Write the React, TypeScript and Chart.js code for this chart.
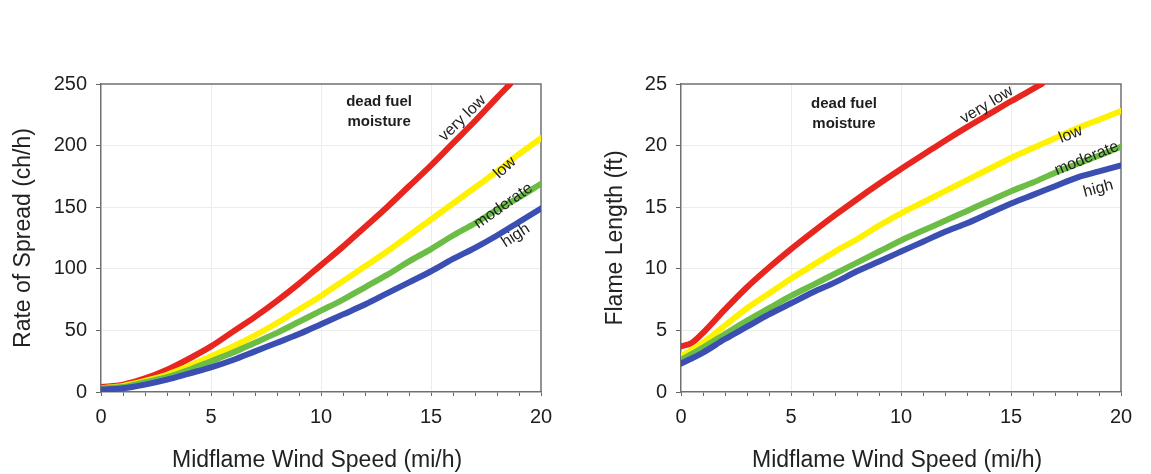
import React, { useEffect, useRef } from "react";
import { Chart, registerables } from "chart.js";

Chart.register(...registerables);

// ---- Data ----
const rosVeryLowX = [0, 1, 2, 3, 4, 5, 6, 7, 8, 9, 10, 11, 12, 13, 14, 15, 16, 17, 18, 18.6];
const rosVeryLow = [4, 6, 11, 18, 27, 37, 49, 61, 74, 88, 103, 118, 134, 150, 167, 184, 202, 220, 239, 250];
const windX = [0, 1, 2, 3, 4, 5, 6, 7, 8, 9, 10, 11, 12, 13, 14, 15, 16, 17, 18, 19, 20];
const rosLow = [3, 5, 9, 14, 21, 29, 37, 46, 56, 67, 78, 90, 102, 114, 127, 140, 153, 166, 179, 193, 206];
const rosModerate = [3, 4, 8, 12, 18, 25, 32, 40, 48, 57, 66, 75, 85, 95, 106, 116, 127, 137, 148, 158, 169];
const rosHigh = [2, 3, 6, 10, 15, 20, 26, 33, 40, 47, 55, 63, 71, 80, 89, 98, 108, 117, 127, 138, 149];

const flVeryLowX = [0, 0.5, 1, 2, 3, 4, 5, 6, 7, 8, 9, 10, 11, 12, 13, 14, 15, 16, 16.4];
const flVeryLow = [3.7, 4.0, 4.8, 6.7, 8.5, 10.1, 11.6, 13.0, 14.35, 15.65, 16.9, 18.1, 19.25, 20.4, 21.5, 22.55, 23.6, 24.6, 25];
const flLow = [2.9, 4.0, 5.4, 6.8, 8.0, 9.2, 10.3, 11.4, 12.4, 13.5, 14.5, 15.4, 16.3, 17.2, 18.1, 19.0, 19.8, 20.6, 21.4, 22.1, 22.8];
const flModerate = [2.6, 3.6, 4.7, 5.8, 6.8, 7.8, 8.7, 9.6, 10.5, 11.4, 12.3, 13.1, 13.9, 14.7, 15.5, 16.3, 17.0, 17.8, 18.5, 19.2, 19.9];
const flHigh = [2.3, 3.2, 4.3, 5.3, 6.3, 7.2, 8.1, 8.9, 9.8, 10.6, 11.4, 12.2, 13.0, 13.7, 14.5, 15.3, 16.0, 16.7, 17.4, 17.9, 18.4];

const seriesNames = ["very low", "low", "moderate", "high"];
const xTitle = "Midflame Wind Speed (mi/h)";
const rosTitle = "Rate of Spread (ch/h)";
const flTitle = "Flame Length (ft)";
const noteLines = ["dead fuel", "moisture"];

// label anchors (data coords) and angles
const rosLabelX = [16.43, 18.36, 18.29, 18.85];
const rosLabelY = [222, 182, 151, 127];
const rosLabelAngle = [-44, -42, -35, -33];
const rosNoteX = 12.64;
const rosNoteY = [235.5, 219];

const flLabelX = [13.9, 17.71, 18.44, 18.97];
const flLabelY = [23.3, 20.9, 18.95, 16.5];
const flLabelAngle = [-31, -22, -22, -15];
const flNoteX = 7.41;
const flNoteY = [23.4, 21.8];

const COLORS = ["#e8251e", "#fff200", "#6cbd45", "#3b4fb2"];
const FONT = "'Liberation Sans', Arial, sans-serif";

const toPts = (xs: number[], ys: number[]) => xs.map((x, i) => ({ x, y: ys[i] }));

type Cfg = {
  padRight: number;
  yMax: number;
  yStep: number;
  yTitle: string;
  yTitleX: number;
  data: { x: number; y: number }[][];
  labelX: number[];
  labelY: number[];
  labelAngle: number[];
  noteX: number;
  noteY: number[];
};

function makeChart(canvas: HTMLCanvasElement, cfg: Cfg) {
  const decor = {
    id: "decor",
    beforeDatasetsDraw(chart: any) {
      const { ctx, chartArea: a } = chart;
      ctx.save();
      ctx.strokeStyle = "#707070";
      ctx.lineWidth = 1.5;
      ctx.beginPath();
      ctx.moveTo(a.left, a.top);
      ctx.lineTo(a.right, a.top);
      ctx.lineTo(a.right, a.bottom);
      ctx.stroke();
      ctx.restore();
    },
    afterDatasetsDraw(chart: any) {
      const { ctx, chartArea: a, scales } = chart;
      const xs = scales.x, ys = scales.y;
      ctx.save();
      ctx.fillStyle = "#1e1e1e";
      ctx.textAlign = "center";
      ctx.textBaseline = "middle";
      ctx.font = `bold 15px ${FONT}`;
      noteLines.forEach((t, i) => {
        ctx.fillText(t, xs.getPixelForValue(cfg.noteX), ys.getPixelForValue(cfg.noteY[i]));
      });
      ctx.font = `16px ${FONT}`;
      seriesNames.forEach((t, i) => {
        ctx.save();
        ctx.translate(xs.getPixelForValue(cfg.labelX[i]), ys.getPixelForValue(cfg.labelY[i]));
        ctx.rotate((cfg.labelAngle[i] * Math.PI) / 180);
        ctx.fillText(t, 0, 0);
        ctx.restore();
      });
      // axis titles
      ctx.fillStyle = "#222";
      ctx.font = `23px ${FONT}`;
      ctx.textAlign = "left";
      ctx.fillText(xTitle, a.left + 71, 461);
      ctx.save();
      ctx.translate(cfg.yTitleX, (a.top + a.bottom) / 2);
      ctx.rotate(-Math.PI / 2);
      ctx.textAlign = "center";
      ctx.fillText(cfg.yTitle, 0, 0);
      ctx.restore();
      ctx.restore();
    },
  };

  const order = [3, 2, 1, 0];
  return new Chart(canvas, {
    type: "line",
    data: {
      datasets: order.map((i) => ({
        label: seriesNames[i],
        data: cfg.data[i],
        borderColor: COLORS[i],
        backgroundColor: COLORS[i],
        borderWidth: 6,
        pointRadius: 0,
        fill: false,
        cubicInterpolationMode: "monotone" as const,
        borderCapStyle: "round" as const,
      })),
    },
    options: {
      animation: false,
      responsive: false,
      devicePixelRatio: 1,
      layout: { padding: { top: 84, right: cfg.padRight, left: 0, bottom: 0 } },
      plugins: { legend: { display: false }, tooltip: { enabled: false } },
      scales: {
        x: {
          type: "linear",
          min: 0,
          max: 20,
          afterFit: (s: any) => {
            s.height = 82;
          },
          ticks: {
            stepSize: 1,
            autoSkip: false,
            maxRotation: 0,
            padding: 9,
            color: "#1e1e1e",
            font: { family: FONT, size: 20 },
            callback: (v: any) => (Number(v) % 5 === 0 ? String(v) : ""),
          },
          grid: {
            color: (c: any) =>
              c.tick && c.tick.value % 5 === 0 && c.tick.value > 0 && c.tick.value < 20
                ? "#ececec"
                : "rgba(0,0,0,0)",
            tickColor: "#666",
            tickLength: 4,
          },
          border: { display: true, color: "#707070", width: 1.5 },
        },
        y: {
          type: "linear",
          min: 0,
          max: cfg.yMax,
          afterFit: (s: any) => {
            s.width = 101;
          },
          ticks: {
            stepSize: cfg.yStep,
            padding: 9,
            color: "#1e1e1e",
            font: { family: FONT, size: 20 },
          },
          grid: {
            color: (c: any) =>
              c.tick && c.tick.value > 0 && c.tick.value < cfg.yMax ? "#ececec" : "rgba(0,0,0,0)",
            tickColor: "#666",
            tickLength: 5,
          },
          border: { display: true, color: "#707070", width: 1.5 },
        },
      },
    },
    plugins: [decor],
  } as any);
}

export default function App() {
  const leftRef = useRef<HTMLCanvasElement>(null);
  const rightRef = useRef<HTMLCanvasElement>(null);

  useEffect(() => {
    const c1 = makeChart(leftRef.current!, {
      padRight: 39,
      yMax: 250,
      yStep: 50,
      yTitle: rosTitle,
      yTitleX: 24,
      data: [
        toPts(rosVeryLowX, rosVeryLow),
        toPts(windX, rosLow),
        toPts(windX, rosModerate),
        toPts(windX, rosHigh),
      ],
      labelX: rosLabelX,
      labelY: rosLabelY,
      labelAngle: rosLabelAngle,
      noteX: rosNoteX,
      noteY: rosNoteY,
    });
    const c2 = makeChart(rightRef.current!, {
      padRight: 30,
      yMax: 25,
      yStep: 5,
      yTitle: flTitle,
      yTitleX: 36,
      data: [
        toPts(flVeryLowX, flVeryLow),
        toPts(windX, flLow),
        toPts(windX, flModerate),
        toPts(windX, flHigh),
      ],
      labelX: flLabelX,
      labelY: flLabelY,
      labelAngle: flLabelAngle,
      noteX: flNoteX,
      noteY: flNoteY,
    });
    return () => {
      c1.destroy();
      c2.destroy();
    };
  }, []);

  return (
    <div
      style={{
        position: "absolute",
        left: 0,
        top: 0,
        width: 1151,
        height: 474,
        background: "#fff",
        display: "flex",
      }}
    >
      <canvas ref={leftRef} width={580} height={474} style={{ width: 580, height: 474, display: "block" }} />
      <canvas ref={rightRef} width={571} height={474} style={{ width: 571, height: 474, display: "block" }} />
    </div>
  );
}
